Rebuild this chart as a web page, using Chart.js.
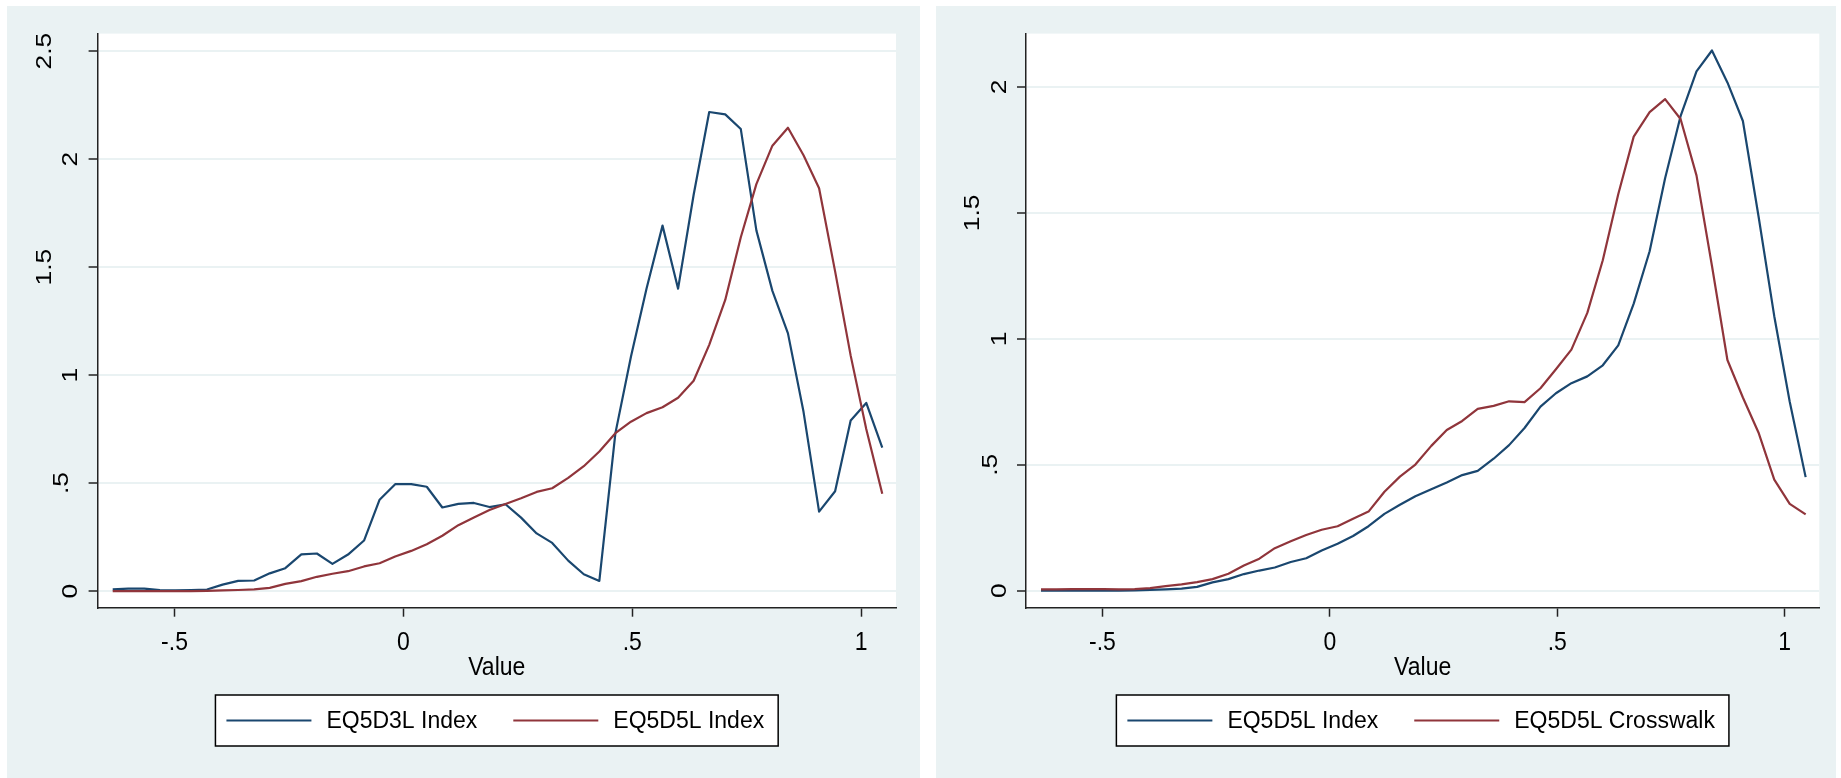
<!DOCTYPE html>
<html>
<head>
<meta charset="utf-8">
<title>Kernel density - EQ-5D index values</title>
<script src="https://cdn.jsdelivr.net/npm/chart.js@4.4.1/dist/chart.umd.min.js"></script>
<style>
  html, body { margin: 0; padding: 0; background: #ffffff; }
  body { width: 1841px; height: 778px; position: relative; overflow: hidden; }
  .panel { position: absolute; background: #eaf2f3; }
  .panel canvas { position: absolute; left: 0; top: 0; }
  #panelLeft { left: 7px; top: 6px; width: 913px; height: 772px; }
  #panelRight { left: 936px; top: 6px; width: 900px; height: 772px; }
</style>
</head>
<body>
<div class="panel" id="panelLeft"><canvas id="densLeft" width="913" height="772"></canvas></div>
<div class="panel" id="panelRight"><canvas id="densRight" width="900" height="772"></canvas></div>

<script>
/* ========================================================
    KERNEL DENSITY - EQ5D3L / EQ5D5L / CROSSWALK
    50 evaluation points, shared grid for every curve
   ======================================================== */

// Evaluation points (x)
const xGrid = [
  -0.635, -0.601, -0.566, -0.532, -0.498, -0.464, -0.429, -0.395, -0.361, -0.326,
  -0.292, -0.258, -0.223, -0.189, -0.155, -0.121, -0.086, -0.052, -0.018, 0.017,
  0.051, 0.085, 0.120, 0.154, 0.188, 0.223, 0.257, 0.291, 0.325, 0.360,
  0.394, 0.428, 0.463, 0.497, 0.531, 0.566, 0.600, 0.634, 0.668, 0.703,
  0.737, 0.771, 0.806, 0.840, 0.874, 0.908, 0.943, 0.977, 1.011, 1.046
];

// Density estimates
const eq5d3lIndex = [
  0.008, 0.011, 0.011, 0.004, 0.003, 0.005, 0.007, 0.030, 0.047, 0.049,
  0.082, 0.106, 0.170, 0.174, 0.126, 0.169, 0.234, 0.423, 0.495, 0.495,
  0.483, 0.387, 0.404, 0.408, 0.389, 0.402, 0.340, 0.267, 0.223, 0.141,
  0.078, 0.047, 0.730, 1.085, 1.400, 1.692, 1.400, 1.835, 2.218, 2.207,
  2.139, 1.670, 1.390, 1.193, 0.830, 0.368, 0.462, 0.790, 0.871, 0.664
];

const eq5d5lIndex = [
  0.000, 0.000, 0.000, 0.000, 0.000, 0.000, 0.001, 0.003, 0.005, 0.008,
  0.015, 0.033, 0.046, 0.066, 0.080, 0.092, 0.114, 0.129, 0.160, 0.186,
  0.217, 0.256, 0.305, 0.341, 0.375, 0.403, 0.430, 0.459, 0.476, 0.524,
  0.578, 0.646, 0.731, 0.784, 0.824, 0.851, 0.895, 0.974, 1.140, 1.348,
  1.638, 1.884, 2.062, 2.145, 2.018, 1.865, 1.480, 1.090, 0.750, 0.451
];

const eq5d5lCrosswalk = [
  0.005, 0.005, 0.006, 0.006, 0.006, 0.005, 0.006, 0.010, 0.018, 0.025,
  0.034, 0.046, 0.067, 0.100, 0.127, 0.169, 0.196, 0.221, 0.242, 0.256,
  0.286, 0.314, 0.393, 0.453, 0.501, 0.575, 0.638, 0.674, 0.722, 0.734,
  0.752, 0.749, 0.804, 0.879, 0.957, 1.103, 1.312, 1.574, 1.803, 1.900,
  1.952, 1.873, 1.649, 1.290, 0.916, 0.767, 0.625, 0.441, 0.345, 0.303
];

// Tick values
const xTicks = [-0.5, 0, 0.5, 1];
const yTicksLeft = [0, 0.5, 1, 1.5, 2, 2.5];
const yTicksRight = [0, 0.5, 1, 1.5, 2];
const xTitle = "Value";

// Stata s2color look
const FONT = "'Liberation Sans', Arial, Helvetica, sans-serif";
const NAVY = "#1a476f";
const MAROON = "#90353b";
const AXIS = "#222222";
const GRID = "#eaf2f3";
const TALL = 1.12; // axis text is a bit taller than wide

Chart.defaults.font.family = FONT;
Chart.defaults.color = "#000";

// "-.5", ".5", "1.5" ... (no leading zero)
function tickText(v) {
  if (v === 0) return "0";
  return String(v).replace(/^(-?)0\./, "$1.");
}

// ==========================================
// PLUGINS
// ==========================================

// white plot region on the bluish-gray graph region
const plotBackground = {
  id: "plotBackground",
  beforeDraw(chart) {
    const { ctx, chartArea: a } = chart;
    ctx.save();
    ctx.fillStyle = "#ffffff";
    ctx.fillRect(a.left, a.top, a.right - a.left, a.bottom - a.top);
    ctx.restore();
  },
};

// x tick labels + axis title, slightly stretched vertically
const xAxisText = {
  id: "xAxisText",
  afterDraw(chart, args, opts) {
    const ctx = chart.ctx;
    const x = chart.scales.x;
    const a = chart.chartArea;
    ctx.save();
    ctx.font = "23px " + FONT;
    ctx.fillStyle = "#000";
    ctx.textAlign = "center";
    ctx.textBaseline = "alphabetic";
    x.ticks.forEach((t) => {
      ctx.save();
      ctx.translate(x.getPixelForValue(t.value), opts.tickBaseline);
      ctx.scale(1, TALL);
      ctx.fillText(tickText(t.value), 0, 0);
      ctx.restore();
    });
    ctx.translate((a.left + a.right) / 2, opts.titleBaseline);
    ctx.scale(1, TALL);
    ctx.fillText(xTitle, 0, 0);
    ctx.restore();
  },
};

// vertical y tick labels, read bottom to top
const rotatedYLabels = {
  id: "rotatedYLabels",
  afterDraw(chart) {
    const ctx = chart.ctx;
    const y = chart.scales.y;
    const tickEnd = y.right - y.options.grid.tickLength;
    ctx.save();
    ctx.font = "22px " + FONT;
    ctx.fillStyle = "#000";
    ctx.textAlign = "center";
    ctx.textBaseline = "middle";
    y.ticks.forEach((t) => {
      const label = tickText(t.value);
      const w = ctx.measureText(label).width;
      ctx.save();
      ctx.translate(tickEnd - 1.43 * w, y.getPixelForValue(t.value));
      ctx.rotate(-Math.PI / 2);
      ctx.scale(1.2, 1);
      ctx.fillText(label, 0, 0);
      ctx.restore();
    });
    ctx.restore();
  },
};

// boxed legend in one row under the axis title
const boxedLegend = {
  id: "boxedLegend",
  afterDraw(chart, args, opts) {
    const { ctx, chartArea: a } = chart;
    const sets = chart.data.datasets;
    const padL = 11, lineLen = 85, gap = 15, itemGap = 36, padR = 14;
    ctx.save();
    ctx.font = "23px " + FONT;
    const widths = sets.map((d) => ctx.measureText(d.label).width);
    const total = padL + padR + sets.length * (lineLen + gap) +
      widths.reduce((s, w) => s + w, 0) + itemGap * (sets.length - 1);
    const left = (a.left + a.right) / 2 - total / 2;
    const top = opts.top, h = opts.height;

    ctx.fillStyle = "#ffffff";
    ctx.fillRect(left, top, total, h);
    ctx.strokeStyle = "#000";
    ctx.lineWidth = 1.5;
    ctx.strokeRect(left, top, total, h);

    const my = top + h / 2;
    let x = left + padL;
    sets.forEach((d, i) => {
      ctx.strokeStyle = d.borderColor;
      ctx.lineWidth = d.borderWidth;
      ctx.beginPath();
      ctx.moveTo(x, my);
      ctx.lineTo(x + lineLen, my);
      ctx.stroke();
      x += lineLen + gap;
      ctx.fillStyle = "#000";
      ctx.textAlign = "left";
      ctx.textBaseline = "middle";
      ctx.fillText(d.label, x, my + 1);
      x += widths[i] + itemGap;
    });
    ctx.restore();
  },
};

// ==========================================
// PANEL FACTORY
// ==========================================
function densityPanel(canvasId, series, yRange, yTicks, axisWidth, padRight) {
  return new Chart(document.getElementById(canvasId), {
    type: "line",
    data: {
      datasets: series.map((s, i) => ({
        label: s.label,
        data: xGrid.map((x, k) => ({ x: x, y: s.values[k] })),
        borderColor: s.color,
        borderWidth: 2.2,
        borderJoinStyle: "round",
        pointRadius: 0,
        tension: 0,
        fill: false,
        order: series.length - i, // second curve on top
      })),
    },
    options: {
      responsive: false,
      animation: false,
      events: [],
      layout: { padding: { top: 27.6, right: padRight, bottom: 0, left: 0 } },
      scales: {
        x: {
          type: "linear",
          min: -0.668,
          max: 1.076,
          afterBuildTicks: (s) => { s.ticks = xTicks.map((v) => ({ value: v })); },
          afterFit: (s) => { s.height = 170.3; },
          border: { display: true, color: AXIS, width: 1.5 },
          grid: { drawOnChartArea: false, drawTicks: true, tickLength: 9, tickColor: AXIS, tickWidth: 1.5 },
          ticks: { display: false },
        },
        y: {
          min: yRange[0],
          max: yRange[1],
          afterBuildTicks: (s) => { s.ticks = yTicks.map((v) => ({ value: v })); },
          afterFit: (s) => { s.width = axisWidth; },
          border: { display: true, color: AXIS, width: 1.5 },
          grid: { color: GRID, lineWidth: 2, drawTicks: true, tickLength: 9, tickColor: AXIS, tickWidth: 1.5 },
          ticks: { display: false },
        },
      },
      plugins: {
        legend: { display: false },
        tooltip: { enabled: false },
        xAxisText: { tickBaseline: 644, titleBaseline: 669 },
        boxedLegend: { top: 689, height: 51 },
      },
    },
    plugins: [plotBackground, xAxisText, rotatedYLabels, boxedLegend],
  });
}

// ==========================================
// 1. EQ5D3L vs EQ5D5L
// ==========================================
const leftChart = densityPanel(
  "densLeft",
  [
    { label: "EQ5D3L Index", values: eq5d3lIndex, color: NAVY },
    { label: "EQ5D5L Index", values: eq5d5lIndex, color: MAROON },
  ],
  [-0.077, 2.581],
  yTicksLeft,
  90.6,
  24
);

// ==========================================
// 2. EQ5D5L vs crosswalk
// ==========================================
const rightChart = densityPanel(
  "densRight",
  [
    { label: "EQ5D5L Index", values: eq5d5lIndex, color: NAVY },
    { label: "EQ5D5L Crosswalk", values: eq5d5lCrosswalk, color: MAROON },
  ],
  [-0.0675, 2.212],
  yTicksRight,
  90,
  16.7
);
</script>
</body>
</html>
